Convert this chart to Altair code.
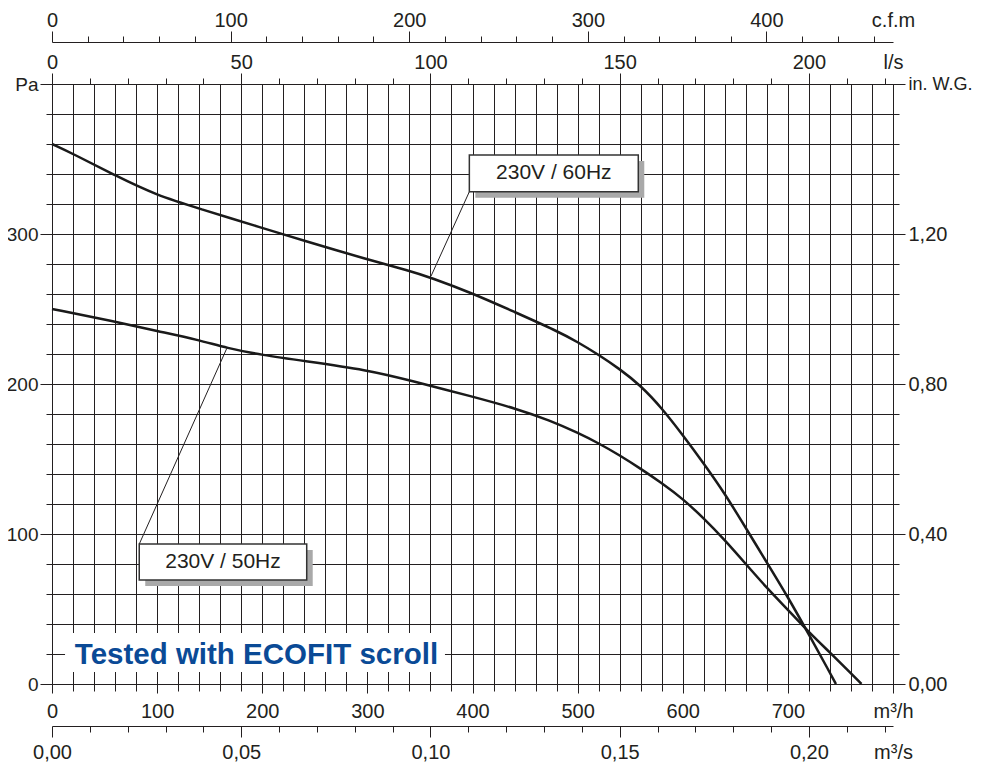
import altair as alt
import pandas as pd

# ---------------- data ----------------
# 230V / 60Hz curve  (air flow m³/h, static pressure Pa)
Q_60HZ = [0, 20, 60, 100, 140, 200, 240, 300, 340, 360, 400, 440, 480, 500, 520, 540,
          560, 580, 600, 620, 640, 660, 680, 700, 720, 740, 745.7]
P_60HZ = [360, 353.5, 339, 325.6, 317, 304, 295.5, 283, 275.5, 271, 260.5, 248, 235.5, 228, 219.5, 210,
          199, 184, 166, 147, 127, 104, 81, 58, 33, 7.5, 0]

# 230V / 50Hz curve
Q_50HZ = [0, 60, 100, 140, 166, 200, 240, 300, 340, 400, 442, 474, 500, 520, 540, 560,
          580, 600, 620, 640, 660, 680, 700, 720, 740, 760, 770]
P_50HZ = [250, 241.6, 235.3, 229.3, 224, 219.3, 215.3, 209.3, 202.5, 191.6, 183.5, 175.6, 167.5, 160.5, 152.5, 143.5,
          134, 123.5, 110.5, 96, 80, 64, 49.5, 34.5, 21, 7.1, 0]

# axis tick values
M3H_MAX = 800
PA_MAX = 400
PA_TICKS = list(range(0, PA_MAX + 1, 20))
M3H_TICKS = list(range(0, M3H_MAX + 1, 20))
LS_MAX = M3H_MAX / 3.6
LS_TICKS = list(range(0, 221, 10)) + [LS_MAX]
CFM_MAX = M3H_MAX / 1.699
CFM_TICKS = list(range(0, 461, 20)) + [CFM_MAX]
M3S_MAX = M3H_MAX / 3600
M3S_TICKS = [round(i * 0.01, 2) for i in range(23)] + [M3S_MAX]
INWG_MAX = 1.6
INWG_TICKS = [round(i * 0.08, 2) for i in range(21)]

# annotations (in data units)
BOX_LABELS = ["230V / 60Hz", "230V / 50Hz"]
BOX_Q1 = [397.0, 83.0]
BOX_Q2 = [557.7, 242.3]
BOX_P1 = [328.2, 69.3]
BOX_P2 = [352.7, 93.3]
LEADER_Q1 = [360.6, 166.3]
LEADER_P1 = [272.0, 223.8]
LEADER_Q2 = [397.0, 83.0]
LEADER_P2 = [328.2, 93.3]
NOTE = ["Tested with ECOFIT scroll"]
NOTE_Q = [194.5]
NOTE_P = [19.5]
NOTE_BOX_Q = [12.4, 373.8]
NOTE_BOX_P = [8.0, 34.0]

# ---------------- tables ----------------
curves = pd.concat([
    pd.DataFrame({"q": Q_60HZ, "p": P_60HZ, "s": "60Hz"}),
    pd.DataFrame({"q": Q_50HZ, "p": P_50HZ, "s": "50Hz"}),
])
boxes = pd.DataFrame({"label": BOX_LABELS, "q1": BOX_Q1, "q2": BOX_Q2, "p1": BOX_P1, "p2": BOX_P2})
boxes["qc"] = (boxes.q1 + boxes.q2) / 2
boxes["pc"] = (boxes.p1 + boxes.p2) / 2
leaders = pd.DataFrame({"q1": LEADER_Q1, "p1": LEADER_P1, "q2": LEADER_Q2, "p2": LEADER_P2})
note = pd.DataFrame({"t": NOTE, "q": NOTE_Q, "p": NOTE_P})
note_box = pd.DataFrame({"q1": [NOTE_BOX_Q[0]], "q2": [NOTE_BOX_Q[1]], "p1": [NOTE_BOX_P[0]], "p2": [NOTE_BOX_P[1]]})

INK = "#231f20"
FONT = "Liberation Sans"
FS = 20


def cond(test, a, b):
    return {"condition": {"test": test, "value": a}, "value": b}


common = dict(domainColor=INK, tickColor=INK, labelColor=INK, labelFont=FONT,
              labelOverlap=False, labelFlush=False, labelBound=False, title=None, domainWidth=1, tickWidth=1)

x_scale = alt.Scale(domain=[0, M3H_MAX], nice=False, zero=False)
y_scale = alt.Scale(domain=[0, PA_MAX], nice=False, zero=False)

x_axis = alt.Axis(
    orient="bottom", values=M3H_TICKS, grid=True, gridColor=INK, gridOpacity=1, gridWidth=1,
    tickSize=cond("datum.value % 100 === 0", 9, 7), labelPadding=8, labelFontSize=FS,
    labelExpr="datum.value === 800 ? 'm³/h' : (datum.value % 100 === 0 ? format(datum.value, 'd') : '')",
    **common)
y_axis = alt.Axis(
    orient="left", values=PA_TICKS, grid=True, gridColor=INK, gridOpacity=1, gridWidth=1,
    tickSize=cond("datum.value % 100 === 0", 12, 6), labelPadding=2, labelFontSize=19,
    labelExpr="datum.value === 400 ? 'Pa' : (datum.value % 100 === 0 ? format(datum.value, 'd') : '')",
    **common)

X = alt.X("q:Q", scale=x_scale, axis=x_axis)
Y = alt.Y("p:Q", scale=y_scale, axis=y_axis)

lines = alt.Chart(curves).mark_line(interpolate="basis", color="#1a1a1a", strokeWidth=2.5).encode(
    x=X, y=Y, detail="s:N")

note_bg = alt.Chart(note_box).mark_rect(color="white").encode(
    x=alt.X("q1:Q", scale=x_scale, axis=x_axis), x2="q2:Q",
    y=alt.Y("p1:Q", scale=y_scale, axis=y_axis), y2="p2:Q")
note_txt = alt.Chart(note).mark_text(font=FONT, fontSize=29.5, fontWeight="bold", color="#0a4a96",
                                     baseline="middle", align="center").encode(
    x=alt.X("q:Q", scale=x_scale, axis=x_axis), y=alt.Y("p:Q", scale=y_scale, axis=y_axis), text="t:N")

leader = alt.Chart(leaders).mark_rule(color=INK, strokeWidth=1).encode(
    x=alt.X("q1:Q", scale=x_scale, axis=x_axis), x2="q2:Q",
    y=alt.Y("p1:Q", scale=y_scale, axis=y_axis), y2="p2:Q")
shadow = alt.Chart(boxes).mark_rect(color="#a9a9a9", xOffset=6, x2Offset=6, yOffset=6, y2Offset=6).encode(
    x=alt.X("q1:Q", scale=x_scale, axis=x_axis), x2="q2:Q",
    y=alt.Y("p1:Q", scale=y_scale, axis=y_axis), y2="p2:Q")
box = alt.Chart(boxes).mark_rect(fill="white", stroke="#333333", strokeWidth=1.5).encode(
    x=alt.X("q1:Q", scale=x_scale, axis=x_axis), x2="q2:Q",
    y=alt.Y("p1:Q", scale=y_scale, axis=y_axis), y2="p2:Q")
box_txt = alt.Chart(boxes).mark_text(font=FONT, fontSize=21, color=INK, baseline="middle", align="center").encode(
    x=alt.X("qc:Q", scale=x_scale, axis=x_axis), y=alt.Y("pc:Q", scale=y_scale, axis=y_axis), text="label:N")

main = alt.layer(lines, note_bg, note_txt, leader, shadow, box, box_txt)

# right axis: in. W.G.
right = alt.Chart(pd.DataFrame({"w": [0, INWG_MAX]})).mark_point(opacity=0).encode(
    y=alt.Y("w:Q", scale=alt.Scale(domain=[0, INWG_MAX], nice=False, zero=False),
            axis=alt.Axis(orient="right", values=INWG_TICKS, grid=False,
                          labelFontSize=cond("datum.value > 1.59", 18, FS),
                          tickSize=cond("round(datum.value * 100) % 40 === 0", 12, 6), labelPadding=3,
                          labelExpr="datum.value > 1.59 ? 'in. W.G.' : (round(datum.value * 100) % 40 === 0 ? replace(format(datum.value, '.2f'), '.', ',') : '')",
                          **common)))

# top axis: l/s
ls = alt.Chart(pd.DataFrame({"v": [0, LS_MAX]})).mark_point(opacity=0).encode(
    x=alt.X("v:Q", scale=alt.Scale(domain=[0, LS_MAX], nice=False, zero=False),
            axis=alt.Axis(orient="top", values=LS_TICKS, grid=False, labelFontSize=FS,
                          tickSize=cond("datum.value % 50 === 0 || datum.value > 221", 11, 6),
                          tickOpacity=cond("datum.value > 221", 0, 1), labelPadding=1,
                          labelExpr="datum.value > 221 ? 'l/s' : (datum.value % 50 === 0 ? format(datum.value, 'd') : '')",
                          **common)))

# top axis: c.f.m
cfm = alt.Chart(pd.DataFrame({"v": [0, CFM_MAX]})).mark_point(opacity=0).encode(
    x=alt.X("v:Q", scale=alt.Scale(domain=[0, CFM_MAX], nice=False, zero=False),
            axis=alt.Axis(orient="top", offset=42, values=CFM_TICKS, grid=False, labelFontSize=FS,
                          tickSize=cond("datum.value % 100 === 0 || datum.value > 461", 11, 6),
                          tickOpacity=cond("datum.value > 461", 0, 1), labelPadding=1,
                          labelExpr="datum.value > 461 ? 'c.f.m' : (datum.value % 100 === 0 ? format(datum.value, 'd') : '')",
                          **common)))

# bottom axis: m³/s
m3s = alt.Chart(pd.DataFrame({"v": [0, M3S_MAX]})).mark_point(opacity=0).encode(
    x=alt.X("v:Q", scale=alt.Scale(domain=[0, M3S_MAX], nice=False, zero=False),
            axis=alt.Axis(orient="bottom", offset=42, values=M3S_TICKS, grid=False, labelFontSize=FS,
                          tickSize=cond("round(datum.value * 100) % 5 === 0 || datum.value > 0.221", 11, 6),
                          tickOpacity=cond("datum.value > 0.221", 0, 1), labelPadding=5,
                          labelExpr="datum.value > 0.221 ? 'm³/s' : (round(datum.value * 100) % 5 === 0 ? replace(format(datum.value, '.2f'), '.', ',') : '')",
                          **common)))

chart = alt.layer(main, right, ls, cfm, m3s).resolve_scale(
    x="independent", y="independent"
).properties(
    width=841, height=600,
    padding={"left": 44, "top": 76, "right": 83, "bottom": 78},
    autosize=alt.AutoSizeParams(type="none"),
    background="white",
).configure_view(strokeWidth=0)

chart.save("out.html", embed_options={"renderer": "svg", "actions": False})
